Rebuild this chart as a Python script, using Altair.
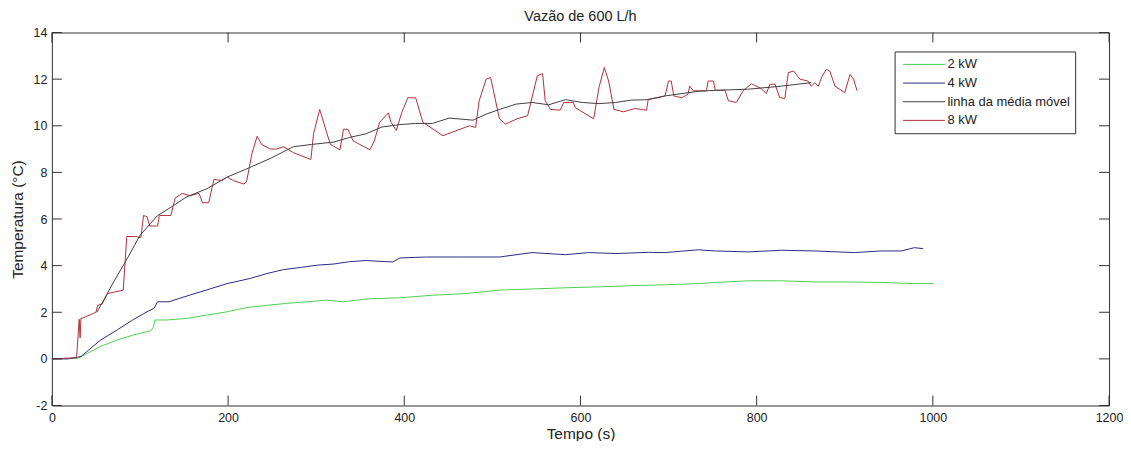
import altair as alt
import pandas as pd

# ---- data ----
t_2kw = [0, 29, 35, 55, 74, 93, 112, 115, 117, 131, 154, 176, 199, 221, 244, 267, 289, 312, 331,
         357, 395, 432, 470, 508, 545, 583, 621, 658, 696, 734, 753, 791, 828, 866, 904, 941, 979, 1001]
v_2kw = [0, 0.02, 0.13, 0.53, 0.81, 1.03, 1.2, 1.34, 1.67, 1.67, 1.74, 1.88, 2.02, 2.2, 2.3, 2.38, 2.45,
         2.52, 2.45, 2.57, 2.62, 2.73, 2.8, 2.95, 3.0, 3.05, 3.09, 3.14, 3.18, 3.23, 3.28, 3.35, 3.35,
         3.3, 3.3, 3.28, 3.23, 3.23]

t_4kw = [0, 18, 29, 33, 55, 74, 93, 108, 116, 120, 133, 150, 169, 199, 225, 244, 263, 282, 301, 320,
         338, 357, 369, 387, 395, 425, 463, 508, 545, 583, 609, 640, 677, 696, 715, 734, 753, 791,
         828, 866, 911, 941, 964, 979, 989]
v_4kw = [0, 0, 0.07, 0.1, 0.8, 1.24, 1.7, 2.02, 2.17, 2.45, 2.45, 2.66, 2.88, 3.23, 3.45, 3.66, 3.83,
         3.92, 4.02, 4.07, 4.17, 4.22, 4.19, 4.16, 4.33, 4.37, 4.37, 4.37, 4.56, 4.47, 4.56, 4.52,
         4.57, 4.56, 4.62, 4.68, 4.63, 4.59, 4.66, 4.63, 4.56, 4.63, 4.63, 4.77, 4.73]

t_8kw = [0, 28, 31, 32, 33, 35, 50, 52, 57, 63, 81, 85, 95, 101, 104, 108, 111, 120, 122, 135, 140,
         148, 157, 167, 171, 178, 184, 193, 199, 206, 218, 221, 227, 233, 238, 248, 255, 263, 274,
         294, 297, 304, 316, 327, 331, 336, 342, 361, 366, 372, 382, 385, 391, 397, 404, 413, 421,
         444, 449, 474, 481, 485, 493, 498, 508, 515, 528, 540, 551, 557, 560, 566, 577, 581, 592,
         594, 600, 615, 621, 627, 632, 638, 649, 662, 675, 677, 688, 696, 700, 703, 706, 715, 722,
         724, 728, 743, 745, 751, 753, 764, 768, 777, 785, 794, 805, 811, 815, 821, 826, 832, 836,
         842, 849, 858, 862, 866, 870, 874, 879, 883, 889, 900, 906, 910, 914]
v_8kw = [0, 0.05, 1.7, 0.9, 1.75, 1.75, 2.0, 2.3, 2.35, 2.8, 2.95, 5.25, 5.25, 5.2, 6.15, 6.1, 5.7,
         5.7, 6.15, 6.15, 6.9, 7.1, 7.0, 7.1, 6.7, 6.7, 7.7, 7.65, 7.8, 7.65, 7.5, 7.6, 8.8, 9.55,
         9.2, 9.0, 9.0, 9.1, 8.85, 8.55, 9.65, 10.7, 9.2, 8.97, 9.85, 9.85, 9.35, 8.97, 9.35, 10.15,
         10.55, 10.15, 9.8, 10.55, 11.2, 11.2, 10.15, 9.57, 9.65, 10.0, 9.93, 11.07, 12.0, 12.07,
         10.3, 10.07, 10.3, 10.43, 12.14, 12.24, 11.07, 10.7, 10.67, 11.0, 11.0, 10.78, 10.64, 10.3,
         11.64, 12.5, 11.92, 10.7, 10.6, 10.74, 10.67, 11.14, 11.21, 11.28, 11.92, 11.92, 11.28,
         11.2, 11.35, 11.7, 11.5, 11.5, 11.92, 11.92, 11.52, 11.52, 11.07, 11.0, 11.52, 11.8, 11.6,
         11.38, 11.78, 11.78, 11.21, 11.17, 12.28, 12.35, 12.0, 11.92, 11.7, 11.85, 11.7, 12.1,
         12.42, 12.35, 11.7, 11.42, 12.2, 12.0, 11.5]

t_media = [51, 60, 70, 84, 100, 120, 135, 153, 176, 199, 221, 248, 261, 274, 295, 320, 338, 356,
           375, 395, 413, 432, 451, 478, 493, 508, 527, 545, 564, 583, 602, 621, 640, 658, 677,
           696, 715, 734, 753, 791, 828, 862]
v_media = [2.0, 2.6, 3.3, 4.2, 5.3, 6.15, 6.5, 6.95, 7.3, 7.8, 8.15, 8.6, 8.85, 9.1, 9.2, 9.3, 9.5,
           9.65, 9.95, 10.05, 10.1, 10.1, 10.33, 10.24, 10.5, 10.7, 10.93, 11.0, 10.9, 11.12, 11.0,
           10.95, 11.0, 11.1, 11.12, 11.28, 11.38, 11.48, 11.52, 11.57, 11.7, 11.85]

series_names = ["2 kW", "4 kW", "linha da média móvel", "8 kW"]
series_colors = ["#4fcf4f", "#2b2b86", "#404040", "#b0323a"]
x_ticks = [0, 200, 400, 600, 800, 1000, 1200]
y_ticks = [-2, 0, 2, 4, 6, 8, 10, 12, 14]

FONT = "Liberation Sans"
W, H = 1060, 374
TICK = 10

frames = []
for name, ts, vs, order in [("2 kW", t_2kw, v_2kw, 0), ("4 kW", t_4kw, v_4kw, 1),
                            ("8 kW", t_8kw, v_8kw, 2), ("linha da média móvel", t_media, v_media, 3)]:
    frames.append(pd.DataFrame({"t": ts, "temp": vs, "serie": name, "ordem": order}))
df = pd.concat(frames, ignore_index=True)

xs = alt.Scale(domain=[0, 1200], nice=False, zero=False)
ys = alt.Scale(domain=[-2, 14], nice=False, zero=False)
x_axis = alt.Axis(values=x_ticks, title="Tempo (s)", ticks=False, domain=False, grid=False,
                  labelFlush=False, labelPadding=6, titlePadding=3,
                  labelExpr="'' + datum.value")
y_axis = alt.Axis(values=y_ticks, title="Temperatura (°C)", ticks=False, domain=False,
                  grid=False, labelPadding=5, titlePadding=8,
                  labelExpr="'' + datum.value")

lines = alt.Chart(df).mark_line(strokeWidth=1, interpolate="linear").encode(
    x=alt.X("t:Q", scale=xs, axis=x_axis),
    y=alt.Y("temp:Q", scale=ys, axis=y_axis),
    color=alt.Color("serie:N",
                    scale=alt.Scale(domain=series_names, range=series_colors),
                    legend=alt.Legend(title=None, orient="none", legendX=845, legendY=19,
                                      symbolType="M-0.6,0H5", symbolSize=225,
                                      symbolStrokeWidth=1, labelOffset=32,
                                      labelFont=FONT, labelFontSize=13, labelColor="#222222",
                                      rowPadding=3.7, padding=5, strokeColor="#333333",
                                      fillColor="white")),
    detail="ordem:O",
    order="t:Q",
)

xt = pd.DataFrame({"t": x_ticks})
yt = pd.DataFrame({"temp": y_ticks})
tick_style = dict(color="#333333", strokeWidth=1)
bottom_ticks = alt.Chart(xt).mark_rule(**tick_style).encode(
    x=alt.X("t:Q", scale=xs, axis=x_axis), y=alt.value(H), y2=alt.value(H - TICK))
top_ticks = alt.Chart(xt).mark_rule(**tick_style).encode(
    x=alt.X("t:Q", scale=xs, axis=x_axis), y=alt.value(0), y2=alt.value(TICK))
left_ticks = alt.Chart(yt).mark_rule(**tick_style).encode(
    y=alt.Y("temp:Q", scale=ys, axis=y_axis), x=alt.value(0), x2=alt.value(TICK))
right_ticks = alt.Chart(yt).mark_rule(**tick_style).encode(
    y=alt.Y("temp:Q", scale=ys, axis=y_axis), x=alt.value(W), x2=alt.value(W - TICK))

chart = alt.layer(lines, bottom_ticks, top_ticks, left_ticks, right_ticks).properties(
    width=W, height=H,
    background="white",
    title=alt.TitleParams("Vazão de 600 L/h", font=FONT, fontSize=14.5, fontWeight="normal",
                          color="#222222", offset=2),
    autosize=alt.AutoSizeParams(type="none"),
    padding={"left": 44, "top": 24, "right": 14, "bottom": 35},
).configure_view(
    stroke="#333333", strokeWidth=1
).configure_axis(
    labelFont=FONT, labelFontSize=12.5, labelColor="#222222",
    titleFont=FONT, titleFontSize=15.5, titleFontWeight="normal", titleColor="#222222",
)

chart.save("out.html", embed_options={"renderer": "svg", "actions": False})
